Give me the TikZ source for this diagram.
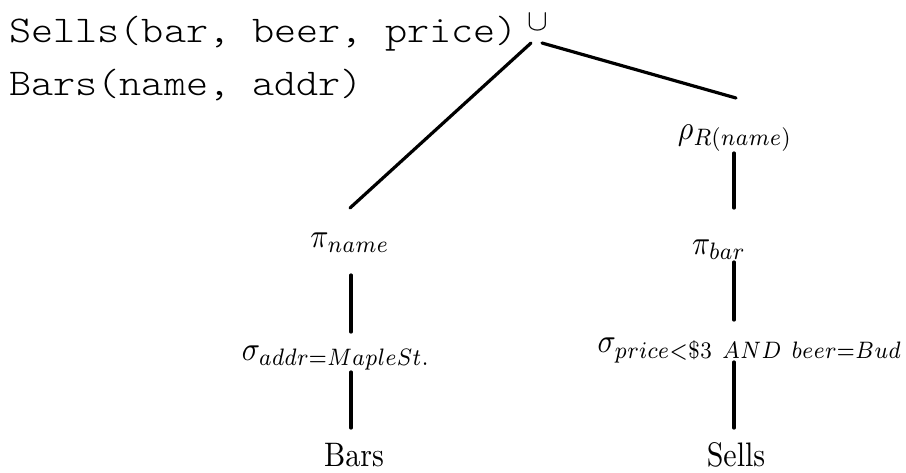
\documentclass[tikz,border=0pt]{standalone}
\usepackage{fontspec}
\newfontfamily\monof{Latin Modern Mono Light}
\begin{document}
\begin{tikzpicture}[x=1pt,y=-1pt,
  hdr/.style={anchor=base west,inner sep=0pt,xscale=1.17,yscale=1.05,font=\monof\fontsize{36}{40}\selectfont},
  op/.style={anchor=base,inner sep=0pt,xscale=3.0,yscale=3.4,font=\fontsize{10}{12}\selectfont},
  unionsym/.style={anchor=base,inner sep=0pt,xscale=3.1,yscale=3.0,font=\fontsize{10}{12}\selectfont},
  edge/.style={line width=3.2pt,line cap=round}]
\useasboundingbox (0,0) rectangle (906,472);
\coordinate (psells) at (9,42);
\coordinate (pbars) at (9,95);
\coordinate (pu) at (538,30);
\coordinate (prho) at (735,139);
\coordinate (ppib) at (719,254);
\coordinate (psigp) at (750,352);
\coordinate (psellsr) at (736,466);
\coordinate (ppin) at (350,247);
\coordinate (psiga) at (336,360);
\coordinate (pbarsr) at (354,466);
\node[hdr] (sells) at (psells) {Sells(bar, beer, price)};
\node[hdr] (bars) at (pbars) {Bars(name, addr)};
\node[unionsym] (u) at (pu) {$\cup$};
\node[op] (rho) at (prho) {$\rho_{R(name)}$};
\node[op] (pib) at (ppib) {$\pi_{bar}$};
\node[op] (sigp) at (psigp) {$\sigma_{price<\$3\ AND\ beer=Bud}$};
\node[op] (sellsr) at (psellsr) {Sells};
\node[op] (pin) at (ppin) {$\pi_{name}$};
\node[op] (siga) at (psiga) {$\sigma_{addr=MapleSt.}$};
\node[op] (barsr) at (pbarsr) {Bars};
\coordinate (l1) at (531,43);
\coordinate (l2) at (350,208);
\coordinate (r1) at (542,43);
\coordinate (r2) at (736,98);
\coordinate (a1) at (734,153);
\coordinate (a2) at (734,208);
\coordinate (b1) at (734,262);
\coordinate (b2) at (734,320);
\coordinate (c1) at (734,362);
\coordinate (c2) at (734,428);
\coordinate (d1) at (351,275);
\coordinate (d2) at (351,332);
\coordinate (e1) at (351,372);
\coordinate (e2) at (351,428);
\draw[edge] (l1) -- (l2);
\draw[edge] (r1) -- (r2);
\draw[edge] (a1) -- (a2);
\draw[edge] (b1) -- (b2);
\draw[edge] (c1) -- (c2);
\draw[edge] (d1) -- (d2);
\draw[edge] (e1) -- (e2);
\end{tikzpicture}
\end{document}
